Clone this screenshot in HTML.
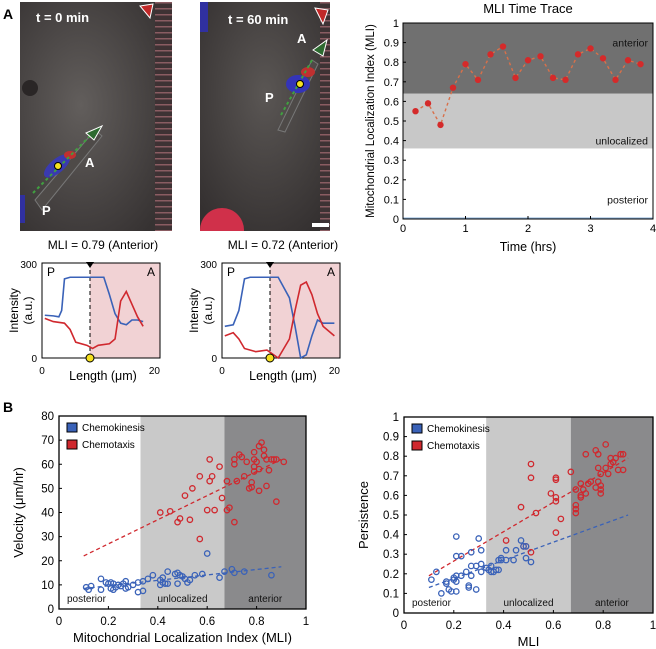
<!DOCTYPE html>
<html><head><meta charset="utf-8"><style>
html,body{margin:0;padding:0;background:#fff;}
svg{display:block;font-family:"Liberation Sans",sans-serif;}
</style></head><body>
<svg id="fig" width="656" height="649" viewBox="0 0 656 649">
<defs>
<radialGradient id="cellbg1" cx="40%" cy="45%" r="70%"><stop offset="0" stop-color="#625e5c"/><stop offset="1" stop-color="#363232"/></radialGradient>
<radialGradient id="cellbg2" cx="50%" cy="40%" r="70%"><stop offset="0" stop-color="#5a5654"/><stop offset="1" stop-color="#343030"/></radialGradient>
<pattern id="strip" width="17" height="6" patternUnits="userSpaceOnUse"><rect width="17" height="6" fill="#3e3234"/><rect y="2" width="17" height="1.5" fill="#8a5c62"/></pattern>
<clipPath id="clip2"><rect x="200" y="2" width="130" height="229"/></clipPath>
</defs>
<text x="3" y="19" font-size="14" font-weight="bold">A</text>
<text x="3" y="412" font-size="14" font-weight="bold">B</text>

<g>
<rect x="20" y="2" width="152" height="229" fill="url(#cellbg1)"/>
<rect x="155" y="2" width="17" height="229" fill="url(#strip)"/>
<circle cx="30" cy="88" r="8" fill="#2a2626"/>
<path d="M35 200 L95 130 L102 136 L42 210 Z" fill="#4e4a48" stroke="#777" stroke-width="1"/>
<ellipse cx="57" cy="166" rx="16" ry="7" transform="rotate(-40 57 166)" fill="#3a3ab0"/>
<ellipse cx="70" cy="155" rx="6" ry="4" fill="#c03030"/>
<rect x="20" y="195" width="5" height="28" fill="#3030a0"/>
<line x1="33" y1="193" x2="96" y2="130" stroke="#40a040" stroke-width="2" stroke-dasharray="3,3"/>
<circle cx="58" cy="166" r="3.5" fill="#f5e020" stroke="#000"/>
<polygon points="86,133 102,126 94,140" fill="#2d6a30" stroke="#fff"/>
<polygon points="140,6 153,4 150,18" fill="#c02828" stroke="#fff"/>
<text x="36" y="22" fill="#fff" font-size="13" font-weight="bold">t = 0 min</text>
<text x="85" y="167" fill="#fff" font-size="13" font-weight="bold">A</text>
<text x="42" y="215" fill="#fff" font-size="13" font-weight="bold">P</text>
</g>
<g clip-path="url(#clip2)">
<rect x="200" y="2" width="130" height="229" fill="url(#cellbg2)"/>
<rect x="320" y="2" width="10" height="229" fill="url(#strip)"/>
<rect x="200" y="2" width="8" height="30" fill="#3030a0"/>
<circle cx="222" cy="230" r="22" fill="#d0304a"/>
<path d="M278 130 L312 60 L318 64 L285 132 Z" fill="#4e4a48" stroke="#777"/>
<ellipse cx="298" cy="84" rx="12" ry="9" fill="#3434b8"/>
<ellipse cx="308" cy="72" rx="7" ry="5" fill="#c03030"/>
<line x1="281" y1="115" x2="312" y2="60" stroke="#40a040" stroke-width="2" stroke-dasharray="3,3"/>
<circle cx="300" cy="84" r="3.5" fill="#f5e020" stroke="#000"/>
<polygon points="313,50 327,40 323,56" fill="#2d6a30" stroke="#fff"/>
<polygon points="315,8 328,10 323,24" fill="#c02828" stroke="#fff"/>
<rect x="312" y="223" width="17" height="4" fill="#fff"/>
<text x="228" y="24" fill="#fff" font-size="13" font-weight="bold">t = 60 min</text>
<text x="297" y="43" fill="#fff" font-size="13" font-weight="bold">A</text>
<text x="265" y="102" fill="#fff" font-size="13" font-weight="bold">P</text>
</g>
<text x="103" y="249" font-size="12" text-anchor="middle">MLI = 0.79 (Anterior)</text>
<text x="283" y="249" font-size="12" text-anchor="middle">MLI = 0.72 (Anterior)</text>
<g id="profiles"></g>
<g id="trace"></g>
<g id="sc1"></g>
<g id="sc2"></g>
</svg>
<script>
// ---------- data ----------
const traceTimes = [0.2,0.4,0.6,0.8,1.0,1.2,1.4,1.6,1.8,2.0,2.2,2.4,2.6,2.8,3.0,3.2,3.4,3.6,3.8];
const traceMLI = [0.55,0.59,0.48,0.67,0.79,0.71,0.84,0.88,0.72,0.81,0.83,0.72,0.71,0.84,0.87,0.82,0.71,0.81,0.79];
const traceXTicks = [0,1,2,3,4];
const traceYTicks = [0,0.1,0.2,0.3,0.4,0.5,0.6,0.7,0.8,0.9,1];

const prof1Len = [0.5,2,3,3.5,4,5,8,11,12,13,14,15,16,17,18];
const prof1Blue = [135,133,130,150,250,255,255,255,200,140,110,105,120,120,115];
const prof1RedLen = [0.5,2,4,5,6,8,9,10,12,13,14,15,16,17,18];
const prof1Red = [125,115,110,90,50,40,30,40,45,60,180,210,170,130,100];
const prof2Len = [0.5,2,3,4,5,10,12,13,14,15,16,17,18,20];
const prof2Blue = [100,105,150,250,255,255,190,100,0,10,70,120,110,110];
const prof2RedLen = [0.5,2,3,4,6,8,10,12,13,14,15,16,17,18,20];
const prof2Red = [70,80,60,30,20,25,0,60,150,230,240,200,140,100,70];

const velRedX = [0.61,0.62,0.57,0.54,0.51,0.61,0.65,0.66,0.68,0.68,0.69,0.71,0.41,0.45,0.48,0.49,0.53,0.60,0.63,0.57,0.71,0.71,0.73,0.74,0.72,0.75,0.76,0.77,0.78,0.78,0.79,0.79,0.79,0.79,0.80,0.81,0.81,0.81,0.82,0.83,0.83,0.84,0.84,0.85,0.86,0.87,0.88,0.88,0.91];
const velRedY = [62,55,55,50,47,53,59,46,53,41,42,36,40,40.5,36,37.5,37,41,41,29,60,62,64,63,53,55,61,50,50.5,52.5,57,59,62,65,61,58,49,67.5,69,66,63.5,62,51,57.5,62,62,62,44.5,61];
const velBlueX = [0.11,0.12,0.13,0.17,0.17,0.19,0.2,0.21,0.21,0.22,0.22,0.23,0.24,0.25,0.26,0.27,0.27,0.28,0.3,0.32,0.32,0.34,0.34,0.36,0.38,0.41,0.41,0.42,0.42,0.43,0.44,0.44,0.47,0.48,0.48,0.49,0.5,0.51,0.52,0.53,0.55,0.58,0.6,0.65,0.67,0.7,0.71,0.75,0.86];
const velBlueY = [9,8,9.5,12.5,8,11,10.5,11,8.5,8,10.5,9,10,9.5,10.5,11.5,8.5,9,10,7,11,7.5,11.5,12.5,14,12,10,13,11,10.5,15.5,10.5,14.5,15,10.5,14,13.5,12.5,11,12,14,14.5,23,13,15.5,16.5,15,15.5,14];
const velRedFitX = [0.1,0.9], velRedFitY = [22,62];
const velBlueFitX = [0.1,0.9], velBlueFitY = [8.5,17.5];

const perRedX = [0.51,0.51,0.47,0.53,0.59,0.61,0.61,0.61,0.61,0.63,0.61,0.41,0.48,0.49,0.51,0.67,0.69,0.69,0.69,0.69,0.71,0.71,0.71,0.72,0.73,0.73,0.74,0.75,0.77,0.77,0.78,0.78,0.78,0.79,0.79,0.79,0.79,0.81,0.81,0.82,0.83,0.83,0.84,0.85,0.86,0.87,0.88,0.88];
const perRedY = [0.76,0.69,0.54,0.51,0.61,0.69,0.68,0.59,0.57,0.48,0.41,0.37,0.34,0.34,0.31,0.72,0.55,0.53,0.51,0.63,0.66,0.6,0.59,0.63,0.61,0.81,0.66,0.67,0.83,0.64,0.81,0.74,0.67,0.71,0.65,0.63,0.61,0.86,0.74,0.71,0.79,0.76,0.77,0.79,0.73,0.81,0.81,0.73];
const perBlueX = [0.11,0.13,0.15,0.17,0.17,0.18,0.19,0.2,0.2,0.21,0.21,0.21,0.21,0.21,0.23,0.23,0.25,0.26,0.26,0.27,0.27,0.27,0.29,0.29,0.3,0.31,0.31,0.31,0.33,0.34,0.35,0.35,0.36,0.37,0.38,0.38,0.39,0.39,0.41,0.41,0.44,0.45,0.47,0.48,0.49,0.49,0.51];
const perBlueY = [0.17,0.21,0.1,0.16,0.15,0.12,0.11,0.17,0.18,0.39,0.29,0.19,0.16,0.11,0.29,0.19,0.21,0.14,0.13,0.31,0.24,0.19,0.24,0.12,0.38,0.32,0.25,0.21,0.23,0.22,0.24,0.21,0.21,0.22,0.27,0.22,0.28,0.27,0.32,0.27,0.27,0.32,0.37,0.34,0.28,0.34,0.26];
const perRedFitX = [0.1,0.9], perRedFitY = [0.19,0.79];
const perBlueFitX = [0.1,0.9], perBlueFitY = [0.13,0.5];

const mliTicks = [0,0.2,0.4,0.6,0.8,1];
const velTicks = [0,10,20,30,40,50,60,70,80];
const perTicks = [0,0.1,0.2,0.3,0.4,0.5,0.6,0.7,0.8,0.9,1];

// ---------- helpers ----------
const NS="http://www.w3.org/2000/svg";
function mk(parent,tag,attrs,text){const e=document.createElementNS(NS,tag);for(const k in attrs)e.setAttribute(k,attrs[k]);if(text!==undefined)e.textContent=text;parent.appendChild(e);return e;}
function lin(d0,d1,r0,r1){return v=>r0+(v-d0)/(d1-d0)*(r1-r0);}
const RED="#d0282e", BLUE="#3a62b8";

// ---------- profiles ----------
(function(){
 const g=document.getElementById('profiles');
 function prof(x0,x1,dash,lenB,blue,lenR,red,name){
  const y0=263,y1=358;
  const sx=lin(0,21,x0,x1), sy=lin(0,300,y1,y0);
  const p=mk(g,'g',{});
  
  
  mk(p,'rect',{x:dash,y:y0,width:x1-dash,height:y1-y0,fill:'#f1d2d4'});
  mk(p,'rect',{x:x0,y:y0,width:x1-x0,height:y1-y0,fill:'none',stroke:'#000','stroke-width':1});
  mk(p,'line',{x1:dash,y1:y0,x2:dash,y2:y1,stroke:'#000','stroke-dasharray':'4,3'});
  mk(p,'polygon',{points:`${dash-4},${y0-1} ${dash+4},${y0-1} ${dash},${y0+5}`,fill:'#000'});
  const bl=mk(p,'polyline',{points:lenB.map((v,i)=>sx(v)+','+sy(blue[i])).join(' '),fill:'none',stroke:BLUE,'stroke-width':1.6});
  
  
  const rl=mk(p,'polyline',{points:lenR.map((v,i)=>sx(v)+','+sy(red[i])).join(' '),fill:'none',stroke:RED,'stroke-width':1.6});
  
  
  mk(p,'circle',{cx:dash,cy:y1,r:4,fill:'#f5e020',stroke:'#000'});
  mk(p,'text',{x:x0+5,y:y0+13,'font-size':12},'P');
  mk(p,'text',{x:x1-13,y:y0+13,'font-size':12},'A');
  mk(p,'text',{x:x0-5,y:y0+5,'font-size':10,'text-anchor':'end'},'300');
  mk(p,'text',{x:x0-5,y:y1+4,'font-size':10,'text-anchor':'end'},'0');
  mk(p,'text',{x:x0,y:y1+16,'font-size':10,'text-anchor':'middle'},'0');
  mk(p,'text',{x:sx(20),y:y1+16,'font-size':10,'text-anchor':'middle'},'20');
  mk(p,'text',{x:(x0+x1)/2+2,y:y1+22,'font-size':12.5,'text-anchor':'middle'},'Length (\u03bcm)');
  mk(p,'text',{x:0,y:0,'font-size':12,'text-anchor':'middle',transform:`translate(${x0-24},${(y0+y1)/2}) rotate(-90)`},'Intensity');
  mk(p,'text',{x:0,y:0,'font-size':12,'text-anchor':'middle',transform:`translate(${x0-10},${(y0+y1)/2}) rotate(-90)`},'(a.u.)');
 }
 prof(42,160,90,prof1Len,prof1Blue,prof1RedLen,prof1Red,'intensity-profile-1');
 prof(222,340,270,prof2Len,prof2Blue,prof2RedLen,prof2Red,'intensity-profile-2');
})();

// ---------- time trace ----------
(function(){
 const g=document.getElementById('trace');
 const L=403,R=653,T=23,B=219;
 const sx=lin(0,4,L,R), sy=lin(0,1,B,T);
 mk(g,'rect',{x:L,y:T,width:R-L,height:B-T,fill:'#fff'});
 mk(g,'rect',{x:L,y:sy(0.64),width:R-L,height:sy(0.36)-sy(0.64),fill:'#c8c8c8'});
 mk(g,'rect',{x:L,y:T,width:R-L,height:sy(0.64)-T,fill:'#707070'});
 mk(g,'rect',{x:L,y:T,width:R-L,height:B-T,fill:'none',stroke:'#000'});
 mk(g,'line',{x1:L,y1:B-1,x2:R,y2:B-1,stroke:'#8ab0d8'});
 mk(g,'text',{x:R-5,y:sy(0.9)+4,'font-size':10.5,fill:'#111','text-anchor':'end'},'anterior');
 mk(g,'text',{x:R-5,y:sy(0.4)+4,'font-size':10.5,fill:'#111','text-anchor':'end'},'unlocalized');
 mk(g,'text',{x:R-5,y:sy(0.1)+4,'font-size':10.5,fill:'#111','text-anchor':'end'},'posterior');
 traceXTicks.forEach(t=>{mk(g,'line',{x1:sx(t),y1:B,x2:sx(t),y2:B-3,stroke:'#000'});mk(g,'text',{x:sx(t),y:B+13,'font-size':11,'text-anchor':'middle'},t);});
 traceYTicks.forEach(t=>{mk(g,'line',{x1:L,y1:sy(t),x2:L+3,y2:sy(t),stroke:'#000'});mk(g,'text',{x:L-4,y:sy(t)+4,'font-size':11,'text-anchor':'end'},t);});
 const ln=mk(g,'polyline',{points:traceTimes.map((t,i)=>sx(t)+','+sy(traceMLI[i])).join(' '),fill:'none',stroke:'#d8704a','stroke-width':1.4,'stroke-dasharray':'3,3'});
 
 
 traceTimes.forEach((t,i)=>{const c=mk(g,'circle',{cx:sx(t),cy:sy(traceMLI[i]),r:3.2,fill:'#d42a2a'});
  
  });
 mk(g,'text',{x:(L+R)/2,y:13,'font-size':13,'text-anchor':'middle'},'MLI Time Trace');
 mk(g,'text',{x:(L+R)/2,y:B+32,'font-size':12.5,'text-anchor':'middle'},'Time (hrs)');
 mk(g,'text',{x:0,y:0,'font-size':11.5,'text-anchor':'middle',transform:`translate(${L-29},${(T+B)/2}) rotate(-90)`},'Mitochondrial Localization Index (MLI)');
})();

// ---------- scatter ----------
function scatter(gid,L,R,T,B,ymax,yTicks,rx,ry,bx,by,rfx,rfy,bfx,bfy,xlabel,ylabel,yfmt,name){
 const g=document.getElementById(gid);
 
 
 const sx=lin(0,1,L,R), sy=lin(0,ymax,B,T);
 mk(g,'rect',{x:L,y:T,width:R-L,height:B-T,fill:'#fff'});
 mk(g,'rect',{x:sx(0.33),y:T,width:sx(0.67)-sx(0.33),height:B-T,fill:'#c9c9c9'});
 mk(g,'rect',{x:sx(0.67),y:T,width:R-sx(0.67),height:B-T,fill:'#8a8a8c'});
 mk(g,'rect',{x:L,y:T,width:R-L,height:B-T,fill:'none',stroke:'#000','stroke-width':1.3});
 mk(g,'text',{x:L+8,y:B-7,'font-size':10,fill:'#111'},'posterior');
 mk(g,'text',{x:sx(0.5),y:B-7,'font-size':10,fill:'#111','text-anchor':'middle'},'unlocalized');
 mk(g,'text',{x:sx(0.835),y:B-7,'font-size':10,fill:'#111','text-anchor':'middle'},'anterior');
 mliTicks.forEach(t=>{mk(g,'line',{x1:sx(t),y1:B,x2:sx(t),y2:B-3,stroke:'#000'});mk(g,'text',{x:sx(t),y:B+16,'font-size':11.5,'text-anchor':'middle'},t);});
 yTicks.forEach(t=>{mk(g,'line',{x1:L,y1:sy(t),x2:L+3,y2:sy(t),stroke:'#000'});mk(g,'text',{x:L-5,y:sy(t)+4,'font-size':11.5,'text-anchor':'end'},yfmt(t));});
 const f1=mk(g,'line',{x1:sx(rfx[0]),y1:sy(rfy[0]),x2:sx(rfx[1]),y2:sy(rfy[1]),stroke:RED,'stroke-width':1.3,'stroke-dasharray':'4,3'});
 
 
 const f2=mk(g,'line',{x1:sx(bfx[0]),y1:sy(bfy[0]),x2:sx(bfx[1]),y2:sy(bfy[1]),stroke:BLUE,'stroke-width':1.3,'stroke-dasharray':'4,3'});
 
 
 rx.forEach((v,i)=>{const c=mk(g,'circle',{cx:sx(v),cy:sy(ry[i]),r:2.7,fill:'none',stroke:RED,'stroke-width':1.3});
  
  });
 bx.forEach((v,i)=>{const c=mk(g,'circle',{cx:sx(v),cy:sy(by[i]),r:2.7,fill:'none',stroke:BLUE,'stroke-width':1.3});
  
  });
 const lg1=mk(g,'g',{});
 
 
 mk(lg1,'rect',{x:L+8,y:T+7,width:10,height:9,fill:BLUE,stroke:'#000'});
 mk(lg1,'text',{x:L+23,y:T+15,'font-size':10},'Chemokinesis');
 const lg2=mk(g,'g',{});
 
 
 mk(lg2,'rect',{x:L+8,y:T+24,width:10,height:9,fill:RED,stroke:'#000'});
 mk(lg2,'text',{x:L+23,y:T+32,'font-size':10},'Chemotaxis');
 mk(g,'text',{x:(L+R)/2,y:B+33,'font-size':13,'text-anchor':'middle'},xlabel);
 mk(g,'text',{x:0,y:0,'font-size':13,'text-anchor':'middle',transform:`translate(${L-36},${(T+B)/2}) rotate(-90)`},ylabel);
}
scatter('sc1',59,306,416,609,80,velTicks,velRedX,velRedY,velBlueX,velBlueY,velRedFitX,velRedFitY,velBlueFitX,velBlueFitY,'Mitochondrial Localization Index (MLI)','Velocity (\u03bcm/hr)',t=>t,'velocity-scatter');
scatter('sc2',404,653,417,613,1,perTicks,perRedX,perRedY,perBlueX,perBlueY,perRedFitX,perRedFitY,perBlueFitX,perBlueFitY,'MLI','Persistence',t=>t,'persistence-scatter');
</script>
</body></html>
